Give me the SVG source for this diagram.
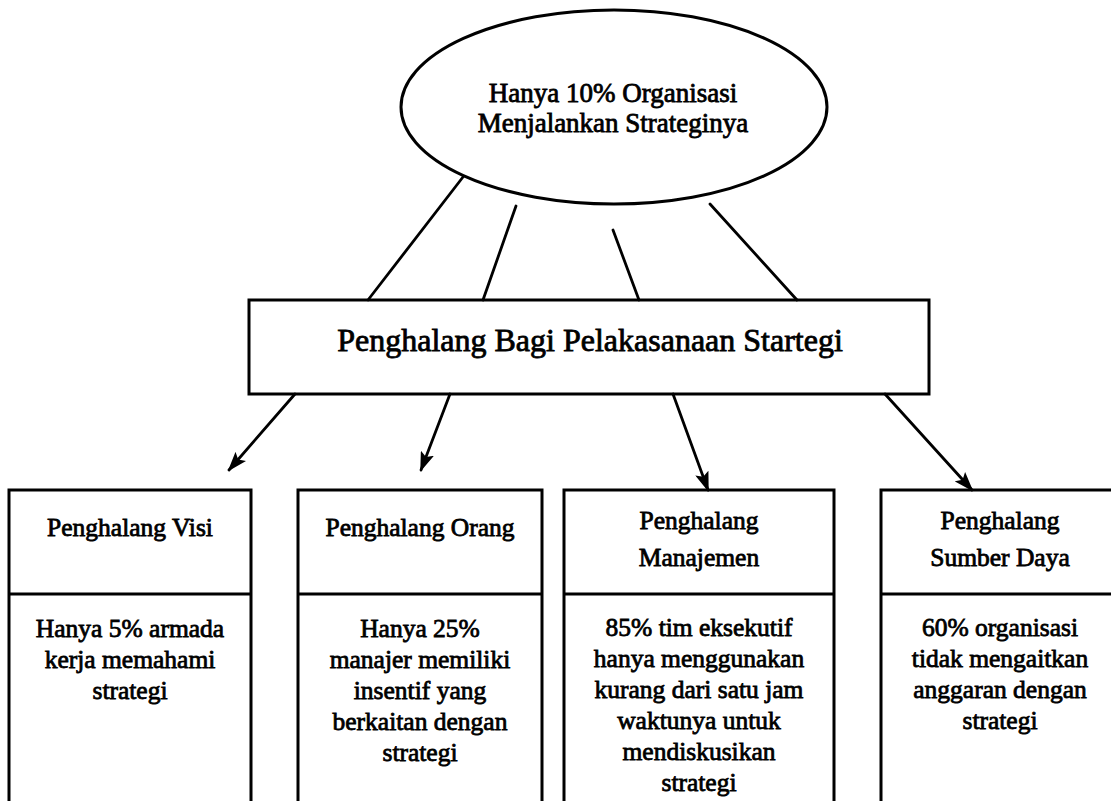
<svg xmlns="http://www.w3.org/2000/svg" width="1111" height="801" viewBox="0 0 1111 801">
  <defs>
    <marker id="head" markerUnits="userSpaceOnUse" markerWidth="20" markerHeight="14" refX="18" refY="7" orient="auto">
      <path d="M0,0 L20,7 L0,14 L4,7 Z" fill="#000"/>
    </marker>
    <style>
      .ln{stroke:#000;stroke-width:2.8;fill:none;stroke-linecap:round}
      .box{fill:none;stroke:#000;stroke-width:3}
      text{font-family:"Liberation Serif","Times New Roman",serif;fill:#000;stroke:#000;stroke-width:0.8;text-anchor:middle}
      .top{font-size:27px}
      .mid{font-size:32px}
      .cell{font-size:25.5px}
    </style>
  </defs>

  <rect x="0" y="0" width="1111" height="801" fill="#fff"/>

  <!-- root ellipse -->
  <g id="root">
    <ellipse class="box" cx="614" cy="107" rx="213" ry="97"/>
    <text class="top" x="613" y="102">Hanya 10% Organisasi</text>
    <text class="top" x="613" y="132">Menjalankan Strateginya</text>
  </g>

  <!-- middle bar -->
  <g id="barrier">
    <rect class="box" x="249" y="300" width="680" height="94"/>
    <text class="mid" x="590" y="351">Penghalang Bagi Pelakasanaan Startegi</text>
  </g>

  <!-- connectors -->
  <g id="connectors">
    <line class="ln" x1="463" y1="177" x2="368" y2="300"/>
    <line class="ln" x1="516" y1="206" x2="483" y2="300"/>
    <line class="ln" x1="613" y1="230" x2="639" y2="300"/>
    <line class="ln" x1="710" y1="204" x2="797" y2="300"/>
    <line class="ln" x1="295" y1="394" x2="229" y2="470" marker-end="url(#head)"/>
    <line class="ln" x1="450" y1="394" x2="421" y2="470" marker-end="url(#head)"/>
    <line class="ln" x1="673" y1="394" x2="708" y2="490" marker-end="url(#head)"/>
    <line class="ln" x1="885" y1="394" x2="972" y2="490" marker-end="url(#head)"/>
  </g>

  <!-- barrier columns -->
  <g id="visi">
    <path class="box" d="M9,810 V490 H251 V810 M9,594 H251"/>
    <text class="cell" x="130" y="536">Penghalang Visi</text>
    <text class="cell" x="130" y="637">Hanya 5% armada</text>
    <text class="cell" x="130" y="668">kerja memahami</text>
    <text class="cell" x="130" y="699">strategi</text>
  </g>

  <g id="orang">
    <path class="box" d="M298,810 V490 H542 V810 M298,594 H542"/>
    <text class="cell" x="420" y="536">Penghalang Orang</text>
    <text class="cell" x="420" y="637">Hanya 25%</text>
    <text class="cell" x="420" y="668">manajer memiliki</text>
    <text class="cell" x="420" y="699">insentif yang</text>
    <text class="cell" x="420" y="730">berkaitan dengan</text>
    <text class="cell" x="420" y="761">strategi</text>
  </g>

  <g id="manajemen">
    <path class="box" d="M564,810 V490 H834 V810 M564,594 H834"/>
    <text class="cell" x="699" y="529">Penghalang</text>
    <text class="cell" x="699" y="566">Manajemen</text>
    <text class="cell" x="699" y="636">85% tim eksekutif</text>
    <text class="cell" x="699" y="667">hanya menggunakan</text>
    <text class="cell" x="699" y="698">kurang dari satu jam</text>
    <text class="cell" x="699" y="729">waktunya untuk</text>
    <text class="cell" x="699" y="760">mendiskusikan</text>
    <text class="cell" x="699" y="791">strategi</text>
  </g>

  <g id="sumber-daya">
    <path class="box" d="M881,810 V490 H1120 M881,594 H1120"/>
    <text class="cell" x="1000" y="529">Penghalang</text>
    <text class="cell" x="1000" y="566">Sumber Daya</text>
    <text class="cell" x="1000" y="636">60% organisasi</text>
    <text class="cell" x="1000" y="667">tidak mengaitkan</text>
    <text class="cell" x="1000" y="698">anggaran dengan</text>
    <text class="cell" x="1000" y="729">strategi</text>
  </g>
</svg>
